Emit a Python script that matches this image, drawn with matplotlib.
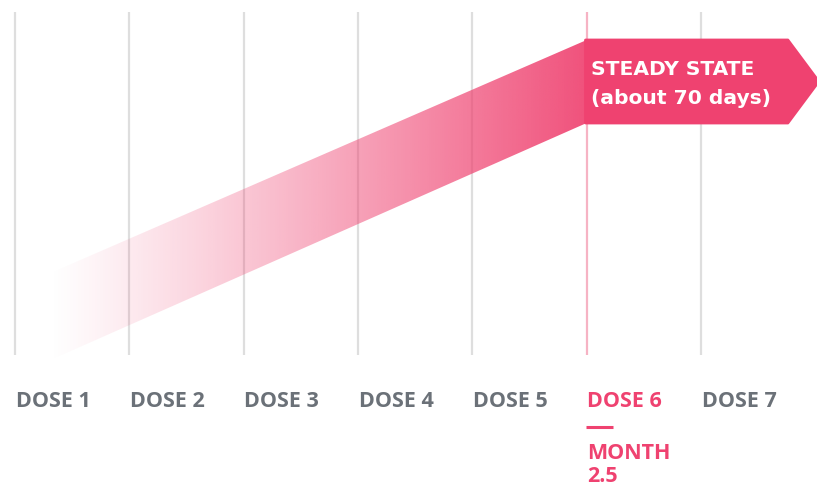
import numpy as np
import matplotlib
matplotlib.use("Agg")
import matplotlib.pyplot as plt
from matplotlib.patches import Polygon

# ---- data ----
doses = [1, 2, 3, 4, 5, 6, 7]
dose_labels = ["DOSE 1", "DOSE 2", "DOSE 3", "DOSE 4", "DOSE 5", "DOSE 6", "DOSE 7"]
steady_dose = 6
steady_note = ["—", "MONTH", "2.5"]
steady_lines = ["STEADY STATE", "(about 70 days)"]
# concentration band (start dose, lower/upper level) -> steady (dose 6)
band_start_dose = 1.31
band_start = (-5, 82)
band_steady = (232, 315)
arrow_end_dose = 7.76
arrow_tip_dose = 8.03

PINK = "#EF4270"
GRAY_TXT = "#6B7178"
GRID = "#DEDEDE"
GRID_PINK = "#F6B3C4"
FONT = "Open Sans"

fig = plt.figure(figsize=(8.17, 4.87), dpi=100)
ax = fig.add_axes([0, 0, 1, 1])
px_per_dose = 114.33
x0 = 1 - 15 / px_per_dose
x1 = 1 + 802 / px_per_dose
ax.set_xlim(x0, x1)
ax.set_ylim(-132, 355)
ax.axis("off")

# grid lines
for d in doses:
    ax.plot([d, d], [0, 343], color=GRID_PINK if d == steady_dose else GRID,
            lw=1.6, zorder=1, solid_capstyle="butt")

# gradient rising band
verts = [(band_start_dose, band_start[0]), (steady_dose, band_steady[0]),
         (steady_dose, band_steady[1]), (band_start_dose, band_start[1])]
poly = Polygon(verts, closed=True, facecolor="none", edgecolor="none")
ax.add_patch(poly)
n = 400
xs = np.linspace(band_start_dose, steady_dose, n)
t = (xs - band_start_dose) / (steady_dose - band_start_dose)
rgb = matplotlib.colors.to_rgb(PINK)
img = np.zeros((2, n, 4))
img[..., 0] = rgb[0]; img[..., 1] = rgb[1]; img[..., 2] = rgb[2]
img[..., 3] = np.clip(t ** 1.1 * 0.92, 0, 1)
im = ax.imshow(img, extent=[band_start_dose, steady_dose, band_start[0], band_steady[1]],
               aspect="auto", origin="lower", zorder=2, interpolation="bilinear")
im.set_clip_path(poly)

# steady-state arrow
ym = (band_steady[0] + band_steady[1]) / 2
arrow_verts = [(steady_dose - 0.01, band_steady[0]), (arrow_end_dose, band_steady[0]),
               (arrow_tip_dose, ym), (arrow_end_dose, band_steady[1]),
               (steady_dose - 0.01, band_steady[1])]
ax.add_patch(Polygon(arrow_verts, closed=True, facecolor=PINK, edgecolor=PINK,
                     lw=2, joinstyle="round", zorder=3))
for yb, line in zip([280, 251], steady_lines):
    ax.text(steady_dose + 0.035, yb, line, color="white", fontsize=14.6,
            fontweight="bold", family="DejaVu Sans", ha="left", va="baseline",
            zorder=4)

# labels
for d, lab in zip(doses, dose_labels):
    c = PINK if d == steady_dose else GRAY_TXT
    ax.text(d + 0.005, -52, lab, color=c, fontsize=15.5, fontweight="bold",
            family=FONT, ha="left", va="baseline")

ax.plot([steady_dose - 0.01, steady_dose + 0.23], [-72, -72], color=PINK, lw=2.2,
        solid_capstyle="butt")
ax.text(steady_dose + 0.005, -104, steady_note[1], color=PINK, fontsize=15.5,
        fontweight="bold", family=FONT, ha="left", va="baseline")
ax.text(steady_dose + 0.005, -126.5, steady_note[2], color=PINK, fontsize=15.5,
        fontweight="bold", family=FONT, ha="left", va="baseline")

fig.savefig("out.png", dpi=100)
